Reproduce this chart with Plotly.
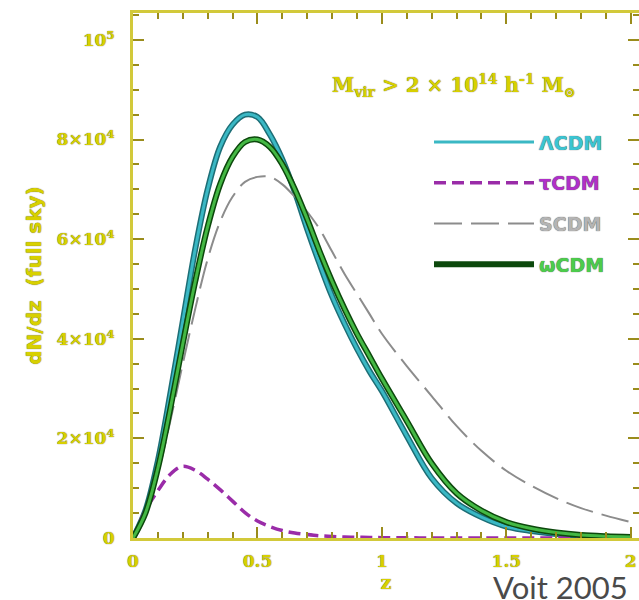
import plotly.graph_objects as go

# Redshift grid and cluster counts per unit redshift (full sky)
z = [0.0, 0.05, 0.1, 0.15, 0.2, 0.25, 0.3, 0.35, 0.4, 0.45, 0.5,
     0.55, 0.6, 0.65, 0.7, 0.75, 0.8, 0.85, 0.9, 0.95, 1.0,
     1.1, 1.2, 1.3, 1.4, 1.5, 1.6, 1.7, 1.8, 1.9, 2.0]

lcdm = [0, 5500, 15500, 29000, 43500, 58000, 70000, 78500, 83000, 85000, 84500,
        81000, 76000, 69500, 62000, 55000, 48500, 43000, 38000, 33500, 29500,
        20500, 12000, 7000, 4200, 2300, 1400, 800, 450, 250, 150]

tcdm = [0, 5500, 9500, 12800, 14400, 13600, 11800, 9700, 7400, 5100, 3400,
        2300, 1500, 1000, 700, 450, 300, 200, 150, 100, 70,
        30, 20, 10, 0, 0, 0, 0, 0, 0, 0]

scdm = [0, 5000, 13000, 23500, 35000, 46000, 56000, 63500, 68500, 71500, 72500,
        72500, 71000, 68500, 65500, 62000, 57500, 53000, 49000, 45000, 41000,
        34500, 28500, 22500, 17500, 13500, 10500, 8000, 6000, 4500, 3200]

wcdm = [0, 5000, 14000, 26000, 39000, 51500, 62500, 71000, 76500, 79500, 80000,
        78500, 75000, 70000, 64000, 57500, 51500, 46000, 41000, 36500, 32000,
        23500, 15000, 9000, 5500, 3200, 1900, 1100, 600, 350, 200]

x_tick_vals = [0, 0.5, 1, 1.5, 2]
x_tick_text = ["0", "0.5", "1", "1.5", "2"]
y_tick_vals = [0, 20000, 40000, 60000, 80000, 100000]
y_tick_text = ["0", "2×10<sup>4</sup>", "4×10<sup>4</sup>", "6×10<sup>4</sup>",
               "8×10<sup>4</sup>", "10<sup>5</sup>"]

YELLOW = "#d8d000"
AXIS = "#d2c93a"
TICK = "#9a8c1c"
txt_shadow = "0px 0px 1px #4a4400"
SERIF = "DejaVu Serif"

fig = go.Figure()

# ΛCDM: dark edge under a bright turquoise line
fig.add_trace(go.Scatter(x=z, y=lcdm, mode="lines", line=dict(color="#1d6e76", width=6, shape="spline"),
                         showlegend=False, hoverinfo="skip"))
fig.add_trace(go.Scatter(x=z, y=lcdm, mode="lines", name='<span style="color:#3cc4d2">ΛCDM</span>',
                         legendgroup="a", line=dict(color="#3ab8c4", width=3, shape="spline")))
# τCDM
fig.add_trace(go.Scatter(x=z, y=tcdm, mode="lines", name='<span style="color:#b030c8">τCDM</span>',
                         legendgroup="b", line=dict(color="#9a2ca8", width=3.5, dash="12px,6px", shape="spline")))
# SCDM
fig.add_trace(go.Scatter(x=z, y=scdm, mode="lines", name='<span style="color:#b4b4b4">SCDM</span>',
                         legendgroup="c", line=dict(color="#8c8c8c", width=2, dash="28px,9px", shape="spline")))
# ωCDM: dark green edge under a bright green line
fig.add_trace(go.Scatter(x=z, y=wcdm, mode="lines", name='<span style="color:#4ccc4c">ωCDM</span>',
                         legendgroup="d", line=dict(color="#0c480c", width=6, shape="spline")))
fig.add_trace(go.Scatter(x=z, y=wcdm, mode="lines", line=dict(color="#44b844", width=3, shape="spline"),
                         showlegend=False, hoverinfo="skip"))

axis_common = dict(
    showline=True, linecolor=AXIS, linewidth=3, mirror="ticks",
    ticks="inside", ticklen=11, tickwidth=2, tickcolor=TICK,
    showgrid=False, zeroline=False, automargin=False,
    tickfont=dict(family=SERIF, size=17, color=YELLOW, weight="bold", shadow=txt_shadow),
)

fig.update_xaxes(
    range=[0, 2.033], tickvals=x_tick_vals, ticktext=x_tick_text,
    minor=dict(dtick=0.1, ticks="inside", ticklen=6, tickwidth=2, tickcolor=TICK),
    ticklabelstandoff=6,
    title=dict(text="z", standoff=4,
               font=dict(family=SERIF, size=19, color=YELLOW, weight="bold", shadow=txt_shadow)),
    **axis_common,
)
fig.update_yaxes(
    range=[0, 105400], tickvals=y_tick_vals, ticktext=y_tick_text,
    minor=dict(dtick=5000, ticks="inside", ticklen=6, tickwidth=2, tickcolor=TICK),
    ticklabelstandoff=12,
    title=dict(text="dN/dz  (full sky)", standoff=10,
               font=dict(family="DejaVu Sans", size=20, color=YELLOW, weight="bold", shadow=txt_shadow)),
    **axis_common,
)

fig.add_annotation(
    text="M<sub>vir</sub> > 2 × 10<sup>14</sup> h<sup>-1</sup> M<sub>⊙</sub>",
    xref="paper", yref="paper", x=0.635, y=0.862, xanchor="center", yanchor="middle", showarrow=False,
    font=dict(family=SERIF, size=20, color=YELLOW, weight="bold", shadow=txt_shadow),
)
fig.add_annotation(
    text="Voit 2005", xref="paper", yref="paper", x=0.982, y=-0.134, xanchor="right", yanchor="bottom",
    showarrow=False, font=dict(family="Lato", size=31, color="#4a4a4a"),
)

fig.update_layout(
    width=639, height=600,
    margin=dict(l=133, r=0, t=13, b=62),
    paper_bgcolor="white", plot_bgcolor="white",
    showlegend=True,
    legend=dict(x=0.585, y=0.79, xanchor="left", yanchor="top", bgcolor="rgba(0,0,0,0)",
                itemwidth=100, traceorder="grouped", tracegroupgap=13,
                font=dict(family="DejaVu Sans", size=19, weight="bold", shadow="0px 0px 1px #333")),
)

fig.write_html("out.html")
